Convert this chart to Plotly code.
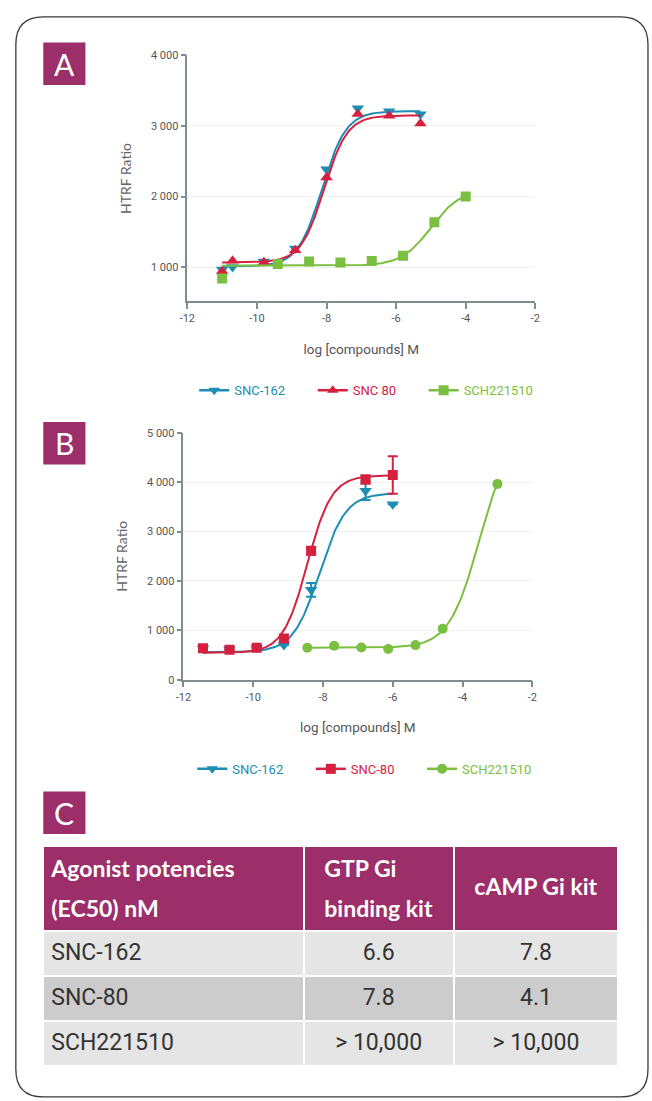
import numpy as np
import plotly.graph_objects as go

W, H = 652, 1101

# ---------------- Panel A data ----------------
a_x_snc162 = [-11.0, -10.7, -9.8, -8.9, -8.0, -7.1, -6.2, -5.3]
a_y_snc162 = [965, 1000, 1080, 1262, 2385, 3250, 3210, 3165]
a_x_snc80 = [-11.0, -10.7, -9.8, -8.9, -8.0, -7.1, -6.2, -5.3]
a_y_snc80 = [940, 1090, 1070, 1240, 2270, 3170, 3145, 3035]
a_x_sch = [-11.0, -9.4, -8.5, -7.6, -6.7, -5.8, -4.9, -4.0]
a_y_sch = [840, 1045, 1080, 1065, 1085, 1160, 1635, 2000]
# 4PL fit parameters: bottom, top, logEC50, hill slope
a_fit_snc162 = [1010, 3210, -8.13, 1.25]
a_fit_snc80 = [1065, 3150, -8.07, 1.30]
a_fit_sch = [1020, 2100, -5.00, 1.03]
a_names = ["SNC-162", "SNC 80", "SCH221510"]

# ---------------- Panel B data ----------------
b_x_snc162 = [-11.44, -10.68, -9.90, -9.12, -8.34, -6.78, -6.00]
b_y_snc162 = [630, 615, 645, 700, 1820, 3830, 3555]
b_err_snc162 = [0, 0, 0, 0, 140, 190, 0]
b_x_snc80 = [-11.44, -10.68, -9.90, -9.12, -8.34, -6.78, -6.00]
b_y_snc80 = [635, 605, 645, 835, 2610, 4055, 4145]
b_err_snc80 = [0, 0, 0, 0, 80, 80, 380]
b_x_sch = [-8.45, -7.68, -6.90, -6.13, -5.35, -4.57, -3.00]
b_y_sch = [647, 687, 653, 620, 700, 1033, 3967]
b_fit_snc162 = [555, 3780, -8.10, 1.15]
b_fit_snc80 = [545, 4140, -8.45, 1.25]
b_fit_sch = [645, 5000, -3.52, 1.00]
b_names = ["SNC-162", "SNC-80", "SCH221510"]

# ---------------- Axis ticks ----------------
x_tickvals = [-12, -10, -8, -6, -4, -2]
x_ticktext = ["-12", "-10", "-8", "-6", "-4", "-2"]
a_y_tickvals = [1000, 2000, 3000, 4000]
a_y_ticktext = ["1 000", "2 000", "3 000", "4 000"]
b_y_tickvals = [0, 1000, 2000, 3000, 4000, 5000]
b_y_ticktext = ["0", "1 000", "2 000", "3 000", "4 000", "5 000"]

# ---------------- Table data ----------------
tbl_header = [["Agonist potencies", "(EC50) nM"], ["GTP Gi", "binding kit"], ["cAMP Gi kit"]]
tbl_compounds = ["SNC-162", "SNC-80", "SCH221510"]
tbl_gtp = ["6.6", "7.8", "> 10,000"]
tbl_camp = ["7.8", "4.1", "> 10,000"]

# ---------------- Styles ----------------
TEAL = "#1c8db3"
RED = "#d5203f"
GREEN = "#7bbf40"
MAGENTA = "#9c2f6a"
AXIS = "#7f8d91"
NARROW = "Liberation Sans Narrow, Arial Narrow, Roboto, sans-serif"
TICKFONT = dict(family=NARROW, size=11, color="#555555")
LEGFONT = dict(family=NARROW, size=13)
NBSP = "\u00a0"


def px(x):
    return x / W


def py(y):
    return 1 - y / H


def four_pl(x, p):
    b, t, ec, h = p
    x = np.asarray(x, dtype=float)
    return b + (t - b) / (1 + 10 ** ((ec - x) * h))


fig = go.Figure()


def add_series(xs, ys, fit, color, symbol, name, xa, ya, legend, err=None, msize=11):
    xc = np.linspace(min(xs), max(xs), 200)
    fig.add_trace(go.Scatter(x=xc, y=four_pl(xc, fit), mode="lines",
                             line=dict(color=color, width=2), xaxis=xa, yaxis=ya,
                             showlegend=False, hoverinfo="skip"))
    ey = None
    if err is not None:
        ey = dict(type="data", array=err, visible=True, color=color, thickness=2, width=5)
    fig.add_trace(go.Scatter(x=xs, y=ys, mode="markers", error_y=ey,
                             marker=dict(color=color, symbol=symbol, size=msize),
                             xaxis=xa, yaxis=ya, showlegend=False, name=name))
    # legend entry (line + marker)
    fig.add_trace(go.Scatter(x=[None], y=[None], mode="lines+markers",
                             line=dict(color=color, width=2.5),
                             marker=dict(color=color, symbol=symbol, size=10),
                             name=f"<span style='color:{color}'>{name}</span>" + NBSP * 7,
                             xaxis=xa, yaxis=ya, legend=legend, showlegend=True))


# Panel A
add_series(a_x_snc162, a_y_snc162, a_fit_snc162, TEAL, "triangle-down", a_names[0], "x", "y", "legend")
add_series(a_x_snc80, a_y_snc80, a_fit_snc80, RED, "triangle-up", a_names[1], "x", "y", "legend")
add_series(a_x_sch, a_y_sch, a_fit_sch, GREEN, "square", a_names[2], "x", "y", "legend", msize=10)

# Panel B
add_series(b_x_snc162, b_y_snc162, b_fit_snc162, TEAL, "triangle-down", b_names[0], "x2", "y2", "legend2", err=b_err_snc162)
add_series(b_x_snc80, b_y_snc80, b_fit_snc80, RED, "square", b_names[1], "x2", "y2", "legend2", err=b_err_snc80, msize=10)
add_series(b_x_sch, b_y_sch, b_fit_sch, GREEN, "circle", b_names[2], "x2", "y2", "legend2", msize=10)


# Table C (explicit <br> keeps plotly from re-wrapping the styled text)
def hcell(lines):
    body = "<br>".join(f"<b><span style='font-size:23px'>{ln}</span></b>" for ln in lines)
    if len(lines) == 1:
        # tiny spacer line so a single-line header sits in the middle of the cell
        body = f"<span style='font-size:1px'>{NBSP}</span><br>" + body
    return body


def bcell(v):
    return f"<span style='font-size:23px'>{v}</span><br>"


header_vals = [hcell(lines) for lines in tbl_header]
fig.add_trace(go.Table(
    domain=dict(x=[px(36), px(623)], y=[py(1073), py(850)]),
    columnwidth=[264, 152, 167],
    header=dict(values=header_vals,
                fill_color=MAGENTA, line=dict(color="white", width=2),
                align=["left", "center", "center"], height=85,
                font=dict(family="Lato, sans-serif", size=31, color="white")),
    cells=dict(values=[[bcell(v) for v in col] for col in (tbl_compounds, tbl_gtp, tbl_camp)],
               fill_color=[["#e5e5e5", "#cccccc", "#e5e5e5"]] * 3,
               line=dict(color="white", width=2),
               align=["left", "center", "center"], height=45,
               font=dict(family="Roboto, sans-serif", size=30, color="#333333")),
))

axis_common = dict(showline=True, linecolor=AXIS, linewidth=1.5, ticks="outside",
                   tickcolor=AXIS, tickwidth=1.5, zeroline=False, tickfont=TICKFONT)
xtitle_font = dict(family=NARROW, size=13.5, color="#555555")
ytitle_font = dict(family="Lato, sans-serif", size=14, color="#666666")

fig.update_layout(
    width=W, height=H, margin=dict(l=0, r=0, t=0, b=0),
    paper_bgcolor="white", plot_bgcolor="white",
    xaxis=dict(domain=[px(183), px(538)], anchor="y", range=[-12, -2],
               tickvals=x_tickvals, ticktext=x_ticktext, ticklen=6, showgrid=False,
               title=dict(text="log [compounds] M", standoff=20, font=xtitle_font),
               **axis_common),
    yaxis=dict(domain=[py(299), py(50)], anchor="x", range=[513, 4000],
               tickvals=a_y_tickvals, ticktext=a_y_ticktext, ticklen=5,
               showgrid=True, gridcolor="#f0f2f2", gridwidth=1,
               title=dict(text="HTRF Ratio", standoff=16, font=ytitle_font),
               **axis_common),
    xaxis2=dict(domain=[px(179), px(535)], anchor="y2", range=[-12, -2],
                tickvals=x_tickvals, ticktext=x_ticktext, ticklen=6, showgrid=False,
                title=dict(text="log [compounds] M", standoff=20, font=xtitle_font),
                **axis_common),
    yaxis2=dict(domain=[py(681.7), py(432)], anchor="x2", range=[0, 5000],
                tickvals=b_y_tickvals, ticktext=b_y_ticktext, ticklen=5,
                showgrid=True, gridcolor="#f0f2f2", gridwidth=1,
                title=dict(text="HTRF Ratio", standoff=16, font=ytitle_font),
                **axis_common),
    legend=dict(orientation="h", x=px(190), xanchor="left", y=py(389), yanchor="middle",
                font=LEGFONT, bgcolor="rgba(0,0,0,0)"),
    legend2=dict(orientation="h", x=px(188), xanchor="left", y=py(772), yanchor="middle",
                 font=LEGFONT, bgcolor="rgba(0,0,0,0)"),
    showlegend=True,
)

# Card border (rounded rectangle)
L, T, R, B, r = 8, 11, 653, 1104, 28
path = (f"M {px(L)},{py(T + r)} Q {px(L)},{py(T)} {px(L + r)},{py(T)} "
        f"L {px(R - r)},{py(T)} Q {px(R)},{py(T)} {px(R)},{py(T + r)} "
        f"L {px(R)},{py(B - r)} Q {px(R)},{py(B)} {px(R - r)},{py(B)} "
        f"L {px(L + r)},{py(B)} Q {px(L)},{py(B)} {px(L)},{py(B - r)} Z")
fig.add_shape(type="path", path=path, xref="paper", yref="paper",
              line=dict(color="#3a3a3a", width=1.3), fillcolor="rgba(0,0,0,0)", layer="below")

# Panel letter boxes
panel_letters = ["A", "B", "C"]
panel_tops = [37, 421, 795]
for letter, top in zip(panel_letters, panel_tops):
    fig.add_shape(type="rect", xref="paper", yref="paper",
                  x0=px(36), x1=px(79), y0=py(top + 43), y1=py(top),
                  fillcolor=MAGENTA, line=dict(width=0))
    fig.add_annotation(x=px(57.5), y=py(top + 21.5), xref="paper", yref="paper",
                       text=letter, showarrow=False, xanchor="center", yanchor="middle",
                       font=dict(family="Lato, sans-serif", size=30, color="white"))

fig.write_html("out.html")
